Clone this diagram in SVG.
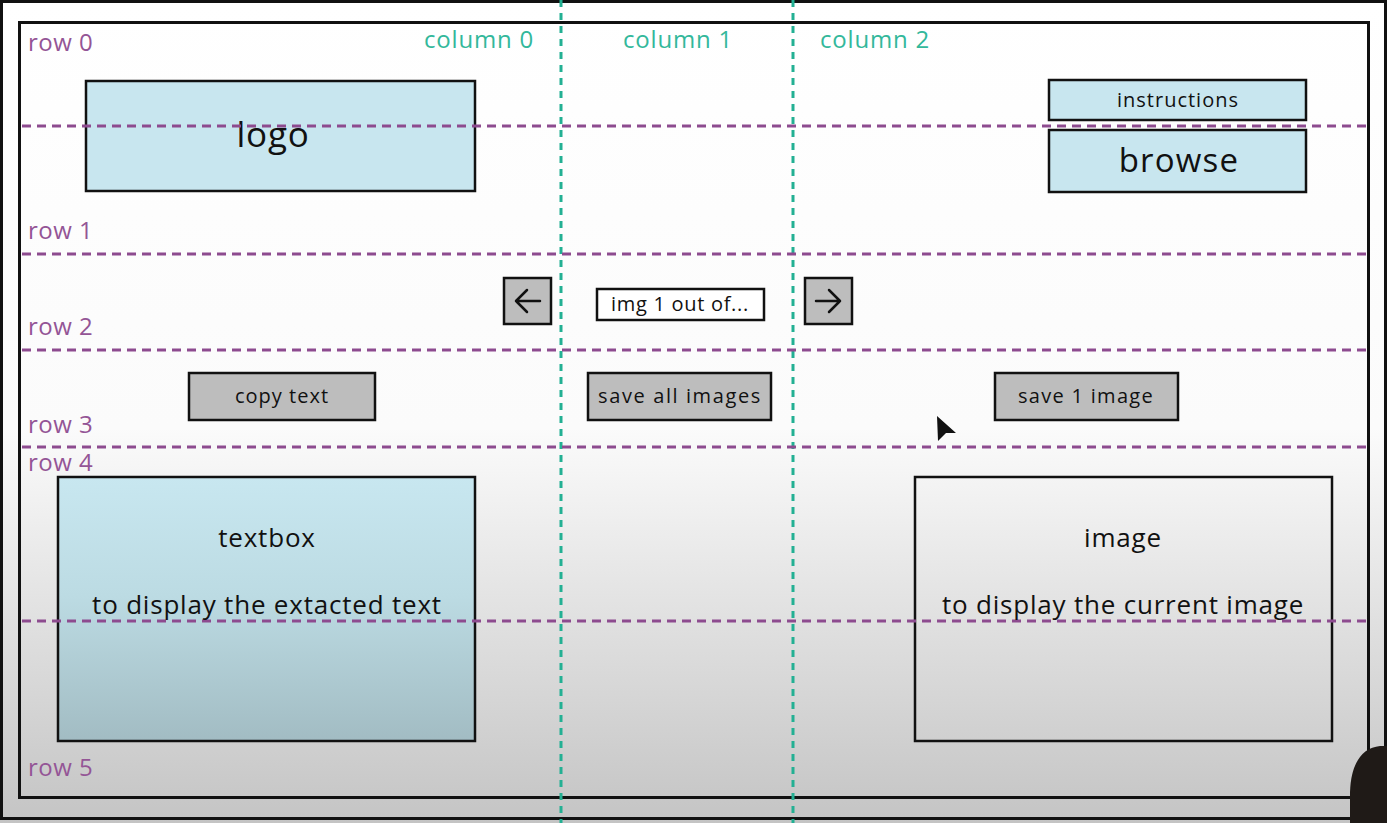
<svg xmlns="http://www.w3.org/2000/svg" width="1387" height="823" viewBox="0 0 1387 823">
<defs>
<linearGradient id="bg" x1="0" y1="0" x2="0" y2="1">
<stop offset="0" stop-color="#ffffff"/>
<stop offset="0.52" stop-color="#fbfbfb"/>
<stop offset="1" stop-color="#c4c4c4"/>
</linearGradient>
<linearGradient id="tb" x1="0" y1="0" x2="0" y2="1">
<stop offset="0" stop-color="#c8e7f0"/>
<stop offset="0.45" stop-color="#bcdbe3"/>
<stop offset="1" stop-color="#a2bcc3"/>
</linearGradient>
<style>
.frame{fill:none;stroke:#111;stroke-width:3}
.blue{fill:#c8e6ef;stroke:#111;stroke-width:2.5}
.gray{fill:#bdbdbd;stroke:#111;stroke-width:2.5}
.white{fill:#fff;stroke:#111;stroke-width:2.5}
.clear{fill:none;stroke:#111;stroke-width:2.5}
.t{font-family:"Open Sans","Liberation Sans",sans-serif;fill:#111;text-anchor:middle}
.s{font-size:20px;letter-spacing:1px}
.b{font-size:26px;letter-spacing:0.8px}
.row{stroke:#8d4b8f;stroke-width:3;stroke-dasharray:9 6;fill:none}
.col{stroke:#23b093;stroke-width:3;stroke-dasharray:7 6;fill:none}
.rl{font-family:"Open Sans","Liberation Sans",sans-serif;font-size:24px;letter-spacing:0.5px;fill:#945596}
.cl{font-family:"Open Sans","Liberation Sans",sans-serif;font-size:24px;letter-spacing:0.8px;fill:#33b89b}
.ar{stroke:#111;stroke-width:2.5;fill:none;stroke-linecap:round;stroke-linejoin:round}
</style>
</defs>
<rect x="0" y="0" width="1387" height="823" fill="url(#bg)"/>
<rect class="frame" x="1.5" y="1.5" width="1384" height="817"/>
<rect class="frame" x="19.5" y="22.5" width="1349" height="775"/>

<g id="logo"><rect class="blue" x="86" y="81" width="389" height="110"/><text class="t" x="273" y="147" font-size="35" letter-spacing="0.8">logo</text></g>
<g id="instructions"><rect class="blue" x="1049" y="80" width="257" height="40"/><text class="t s" x="1178" y="107">instructions</text></g>
<g id="browse"><rect class="blue" x="1049" y="130" width="257" height="62"/><text class="t" x="1179" y="172" font-size="33" letter-spacing="1.2">browse</text></g>
<g id="prev"><rect class="gray" x="504" y="278" width="47" height="46"/><path class="ar" d="M540,301 H516 M527,290 L516,301 L527,312"/></g>
<g id="counter"><rect class="white" x="597" y="289" width="167" height="31"/><text class="t" x="680" y="311" font-size="20" letter-spacing="0.7">img 1 out of...</text></g>
<g id="next"><rect class="gray" x="805" y="278" width="47" height="46"/><path class="ar" d="M816,301 H840 M829,290 L840,301 L829,312"/></g>
<g id="copy_text"><rect class="gray" x="189" y="373" width="186" height="47"/><text class="t s" x="282" y="403">copy text</text></g>
<g id="save_all"><rect class="gray" x="588" y="373" width="183" height="47"/><text class="t" x="680" y="403" font-size="20" letter-spacing="1.6">save all images</text></g>
<g id="save_one"><rect class="gray" x="995" y="373" width="183" height="47"/><text class="t" x="1086" y="403" font-size="20" letter-spacing="1.3">save 1 image</text></g>
<g id="textbox"><rect x="58" y="477" width="417" height="264" fill="url(#tb)" stroke="#111" stroke-width="2.5"/></g>
<g id="image"><rect class="clear" x="915" y="477" width="417" height="264"/></g>

<g id="grid">
<line class="col" x1="561" y1="0" x2="561" y2="823"/>
<line class="col" x1="793" y1="0" x2="793" y2="823"/>
<line class="row" x1="22" y1="126" x2="1368" y2="126"/>
<line class="row" x1="22" y1="254" x2="1368" y2="254"/>
<line class="row" x1="22" y1="350" x2="1368" y2="350"/>
<line class="row" x1="22" y1="447" x2="1368" y2="447"/>
<line class="row" x1="22" y1="621" x2="1368" y2="621"/>
</g>

<g id="box_texts">
<text class="t b" x="267" y="547">textbox</text>
<text class="t b" x="267" y="614">to display the extacted text</text>
<text class="t b" x="1123" y="547">image</text>
<text class="t b" x="1123" y="614">to display the current image</text>
</g>

<g id="labels">
<text class="rl" x="28" y="51">row 0</text>
<text class="rl" x="28" y="239">row 1</text>
<text class="rl" x="28" y="335">row 2</text>
<text class="rl" x="28" y="433">row 3</text>
<text class="rl" x="28" y="471">row 4</text>
<text class="rl" x="28" y="776">row 5</text>
<text class="cl" x="424" y="48">column 0</text>
<text class="cl" x="623" y="48">column 1</text>
<text class="cl" x="820" y="48">column 2</text>
</g>

<polygon points="937,416 956,433 946,433 938,441" fill="#111"/>
<path d="M1350,823 L1350,792 C1351,763 1362,748 1380,746 L1387,746 L1387,823 Z" fill="#1f1a17"/>
</svg>
